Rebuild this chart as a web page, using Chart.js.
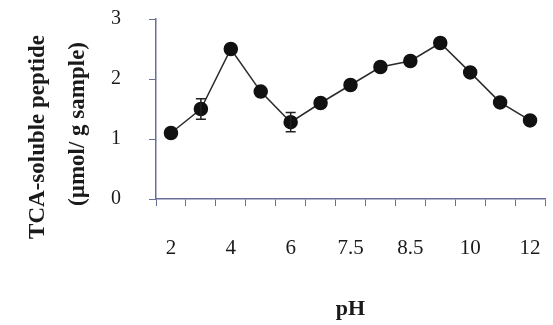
<!DOCTYPE html>
<html>
<head>
<meta charset="utf-8">
<script src="https://cdn.jsdelivr.net/npm/chart.js@4/dist/chart.umd.min.js"></script>
<style>
  html, body { margin: 0; padding: 0; background: #fff; }
  #wrap { width: 553px; height: 325px; }
</style>
</head>
<body>
<div id="wrap"><canvas id="grafico"></canvas></div>
<script>
// pH levels tested (category axis)
const phLevels = ["2", "3", "4", "5", "6", "7", "7.5", "8", "8.5", "9", "10", "11", "12"];
// labels printed under the axis (every other category)
const tickLabels = ["2", "", "4", "", "6", "", "7.5", "", "8.5", "", "10", "", "12"];
// TCA-soluble peptide (umol / g sample)
const peptide = [1.10, 1.50, 2.50, 1.79, 1.28, 1.60, 1.90, 2.20, 2.30, 2.60, 2.11, 1.61, 1.31];
// error bar half-widths (only a few visible)
const errors = [0, 0.17, 0, 0, 0.16, 0, 0, 0, 0, 0, 0, 0, 0];

const axisColor = "#6a6e98";
const serif = "'Liberation Serif', 'Times New Roman', serif";

// draws vertical error bars using the chart's own scales
const errorBars = {
  id: "errorBars",
  afterDatasetsDraw(chart) {
    const ctx = chart.ctx;
    const xs = chart.scales.x, ys = chart.scales.y;
    ctx.save();
    ctx.strokeStyle = "#222";
    ctx.lineWidth = 1.5;
    errors.forEach(function(e, i) {
      if (!e) return;
      const x = xs.getPixelForValue(i);
      const yTop = ys.getPixelForValue(peptide[i] + e);
      const yBot = ys.getPixelForValue(peptide[i] - e);
      ctx.beginPath();
      ctx.moveTo(x, yTop); ctx.lineTo(x, yBot);
      ctx.moveTo(x - 5, yTop); ctx.lineTo(x + 5, yTop);
      ctx.moveTo(x - 5, yBot); ctx.lineTo(x + 5, yBot);
      ctx.stroke();
    });
    ctx.restore();
  }
};

// two-line rotated y axis title
const yTitle = {
  id: "yTitle",
  afterDraw(chart) {
    const ctx = chart.ctx;
    const lines = [["TCA-soluble peptide", 38, 137], ["(\u00b5mol/ g sample)", 78, 124]];
    ctx.save();
    ctx.fillStyle = "#1a1a1a";
    ctx.font = "bold 23px " + serif;
    ctx.textAlign = "center";
    ctx.textBaseline = "middle";
    lines.forEach(function(l) {
      ctx.save();
      ctx.translate(l[1], l[2]);
      ctx.rotate(-Math.PI / 2);
      ctx.fillText(l[0], 0, 0);
      ctx.restore();
    });
    ctx.restore();
  }
};

const canvas = document.getElementById("grafico").getContext("2d");

new Chart(canvas, {
  type: "line",
  data: {
    labels: phLevels,
    datasets: [{
      data: peptide,
      borderColor: "#2a2a2a",
      borderWidth: 1.5,
      pointRadius: 6.5,
      pointBackgroundColor: "#111",
      pointBorderColor: "#111",
      tension: 0
    }]
  },
  options: {
    responsive: true,
    maintainAspectRatio: false,
    animation: false,
    layout: { padding: { top: 19, right: 6, left: 0, bottom: 0 } },
    plugins: {
      legend: { display: false },
      tooltip: { enabled: false }
    },
    scales: {
      x: {
        offset: true,
        grid: {
          offset: true,
          drawOnChartArea: false,
          color: axisColor,
          tickLength: 7
        },
        border: { color: axisColor, width: 1.5 },
        ticks: {
          autoSkip: false,
          maxRotation: 0,
          padding: 30,
          color: "#1a1a1a",
          font: { family: serif, size: 21 },
          callback: function(v, i) { return tickLabels[i]; }
        },
        title: {
          display: true,
          text: "pH",
          color: "#1a1a1a",
          font: { family: serif, size: 22, weight: "bold" },
          padding: { top: 0, bottom: 2 }
        },
        afterFit: function(scale) {
          scale.height = 126;
          scale.paddingLeft = 0;
          scale.paddingRight = 0;
        }
      },
      y: {
        min: 0,
        max: 3,
        grid: {
          drawOnChartArea: false,
          color: axisColor,
          tickLength: 7
        },
        border: { color: axisColor, width: 1.5 },
        ticks: {
          stepSize: 1,
          padding: 28,
          color: "#1a1a1a",
          font: { family: serif, size: 20 }
        },
        afterFit: function(scale) {
          scale.width = 156;
          scale.paddingTop = 0;
          scale.paddingBottom = 0;
        }
      }
    }
  },
  plugins: [errorBars, yTitle]
});
</script>
</body>
</html>
